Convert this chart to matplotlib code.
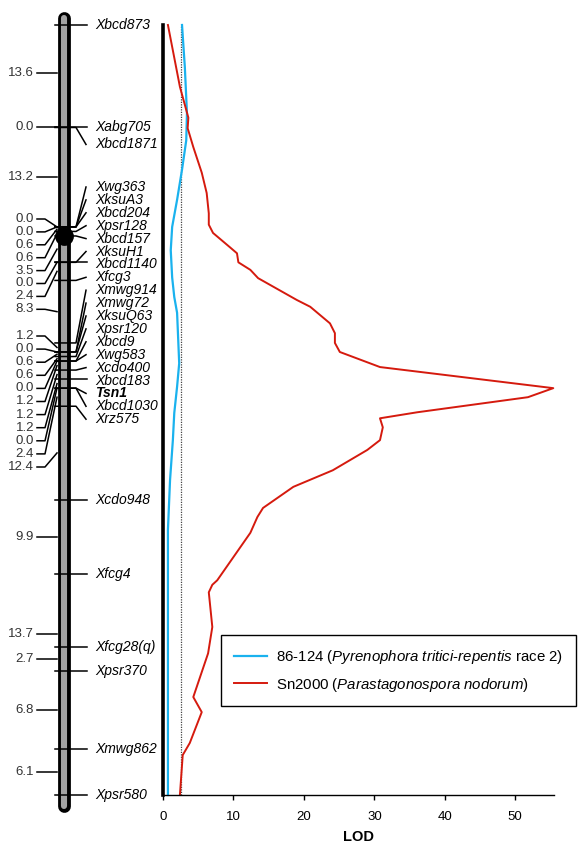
import matplotlib
matplotlib.use('Agg')
import matplotlib.pyplot as plt
import numpy as np

# Map data (cM, top of chromosome = 0)
marker_names = ['Xbcd873', 'Xabg705', 'Xbcd1871', 'Xwg363', 'XksuA3', 'Xbcd204',
                'Xpsr128', 'Xbcd157', 'XksuH1', 'Xbcd1140', 'Xfcg3', 'Xmwg914',
                'Xmwg72', 'XksuQ63', 'Xpsr120', 'Xbcd9', 'Xwg583', 'Xcdo400',
                'Xbcd183', 'Tsn1', 'Xbcd1030', 'Xrz575', 'Xcdo948', 'Xfcg4',
                'Xfcg28(q)', 'Xpsr370', 'Xmwg862', 'Xpsr580']
marker_pos = [0, 13.6, 13.6, 26.8, 26.8, 26.8, 27.4, 28.0, 31.5, 31.5, 33.9, 42.2,
              43.4, 43.4, 44.0, 44.6, 44.6, 45.8, 47.0, 48.2, 48.2, 50.6, 63.0, 72.9,
              82.6, 85.7, 96.1, 102.2]
interval_labels = ['13.6', '0.0', '13.2', '0.0', '0.0', '0.6', '0.6', '3.5', '0.0',
                   '2.4', '8.3', '1.2', '0.0', '0.6', '0.6', '0.0', '1.2', '1.2',
                   '1.2', '0.0', '2.4', '12.4', '9.9', '13.7', '2.7', '6.8', '6.1']
centromere_pos = 28.0
gene_name = 'Tsn1'

# LOD profiles
ptr_pos = [0, 5.6, 11.7, 15.3, 19.2, 23.2, 26.8, 29.9, 33.5, 36.1, 38.2, 44.9, 48.0,
           51.5, 55.1, 60.4, 67.0, 73.7, 102.2]
ptr_lod = [2.7, 3.1, 3.4, 3.3, 2.7, 2.0, 1.3, 1.1, 1.3, 1.6, 2.0, 2.3, 2.0,
           1.6, 1.4, 1.0, 0.7, 0.7, 0.7]
sn_pos = [0, 8.2, 12.3, 13.7, 16.2, 19.6, 22.3, 25.0, 26.5, 27.6, 29.5, 30.3, 31.5,
          32.5, 33.6, 36.5, 37.4, 39.6, 40.9, 42.2, 43.4, 45.4, 48.2, 49.4, 51.4,
          52.2, 53.4, 55.1, 56.4, 59.1, 61.3, 64.1, 65.3, 67.4, 73.7, 74.3, 75.3,
          79.9, 83.4, 89.2, 91.2, 95.3, 96.9, 102.2]
sn_lod = [0.7, 2.4, 3.6, 3.5, 4.3, 5.5, 6.2, 6.5, 6.5, 7.1, 9.5, 10.5, 10.7,
          12.4, 13.5, 19.0, 20.9, 23.7, 24.4, 24.4, 25.1, 30.8, 55.4, 51.8, 36.1,
          30.8, 31.2, 30.8, 29.0, 24.1, 18.5, 14.2, 13.4, 12.4, 7.7, 7.0, 6.5,
          7.0, 6.4, 4.3, 5.5, 3.8, 2.8, 2.4]
lod_threshold = 2.5
ptr_label = r'86-124 ($\mathit{Pyrenophora\ tritici}$-$\mathit{repentis}$ race 2)'
sn_label = r'Sn2000 ($\mathit{Parastagonospora\ nodorum}$)'

plt.rcParams['font.family'] = 'Liberation Sans'
plt.rcParams['mathtext.fontset'] = 'custom'
plt.rcParams['mathtext.rm'] = 'Liberation Sans'
plt.rcParams['mathtext.it'] = 'Liberation Sans:italic'

W, H = 583, 846
top_px, bot_px = 25, 795
fig = plt.figure(figsize=(W / 100, H / 100), dpi=100)

map_len = marker_pos[-1]
px = map_len / (bot_px - top_px)   # cM per pixel


def to_cm(y):
    return (y - top_px) * px


# ---- genetic map ----
ax_map = fig.add_axes([0, 1 - bot_px / H, 160 / W, (bot_px - top_px) / H])
ax_map.set_xlim(0, 160)
ax_map.set_ylim(map_len, 0)
ax_map.axis('off')

ax_map.plot([64, 64], [-0.9, map_len + 1.5], color='black', lw=9.2,
            solid_capstyle='round', clip_on=False, zorder=1)
ax_map.plot([64, 64], [-0.9, map_len + 1.5], color='#a3a3a3', lw=4.4,
            solid_capstyle='round', clip_on=False, zorder=2)
ax_map.plot([64], [centromere_pos], 'o', ms=12.5, color='black', clip_on=False, zorder=4)

# label layout (right side)
slot = 12.9 * px
right_y = list(marker_pos)
right_y[2] = marker_pos[2] + 17 * px
for k, i in enumerate(range(3, 22)):
    right_y[i] = to_cm(187) + k * slot

for name, pos, ly in zip(marker_names, marker_pos, right_y):
    if abs(ly - pos) < 0.3:
        ax_map.plot([55, 87], [pos, pos], color='black', lw=1.1, clip_on=False, zorder=3)
    else:
        ax_map.plot([55, 76, 86], [pos, pos, ly], color='black', lw=1.1,
                    clip_on=False, zorder=3)
    bold = name == gene_name
    ax_map.text(95, ly, name, fontsize=10, fontstyle='italic',
                fontweight='bold' if bold else 'normal', va='center', ha='left')

# label layout (left side)
mids = [(a + b) / 2 for a, b in zip(marker_pos[:-1], marker_pos[1:])]
left_y = list(mids)
straight = [True] * len(mids)
left_y[0] = to_cm(73)
for k, i in enumerate(range(3, 11)):
    left_y[i] = to_cm(219) + k * slot
    straight[i] = False
for k, i in enumerate(range(11, 22)):
    left_y[i] = to_cm(336) + k * 13.1 * px
    straight[i] = False
left_y[23] = to_cm(634)

for lab, m, ly, st in zip(interval_labels, mids, left_y, straight):
    if st:
        ax_map.plot([37, 57], [ly, ly], color='black', lw=1.1, clip_on=False, zorder=3)
    else:
        ax_map.plot([37, 45, 57], [ly, ly, m], color='black', lw=1.1,
                    clip_on=False, zorder=3)
    ax_map.text(34, ly, lab, fontsize=9.5, color='#333333', va='center', ha='right')

# ---- LOD profile ----
ax = fig.add_axes([163 / W, 1 - bot_px / H, (554 - 163) / W, (bot_px - top_px) / H])
ax.set_xlim(0, 55.5)
ax.set_ylim(map_len, 0)
for s in ['top', 'right']:
    ax.spines[s].set_visible(False)
ax.spines['left'].set_linewidth(2.6)
ax.spines['bottom'].set_linewidth(1.0)
ax.set_yticks([])
ax.set_xticks(np.arange(0, 51, 10))
ax.tick_params(axis='x', direction='out', length=3.5, width=1, labelsize=9.5, pad=8)
ax.set_xlabel('LOD', fontweight='bold', fontsize=10.5, labelpad=5)

ax.axvline(lod_threshold, color='#444444', ls=(0, (1, 1)), lw=0.9)
ax.plot(ptr_lod, ptr_pos, color='#1ab2ee', lw=1.6, label=ptr_label, clip_on=False)
ax.plot(sn_lod, sn_pos, color='#d51a0e', lw=1.4, label=sn_label, clip_on=False)

leg = ax.legend(loc='upper left', bbox_to_anchor=(221 / W, 1 - 635 / H),
                bbox_transform=fig.transFigure, fancybox=False, edgecolor='black',
                framealpha=1, fontsize=10.8, handlelength=2.2, handletextpad=0.6,
                labelspacing=0.65, borderpad=0.85, borderaxespad=0)
leg.get_frame().set_linewidth(1.0)

fig.savefig('out.png', dpi=100)
